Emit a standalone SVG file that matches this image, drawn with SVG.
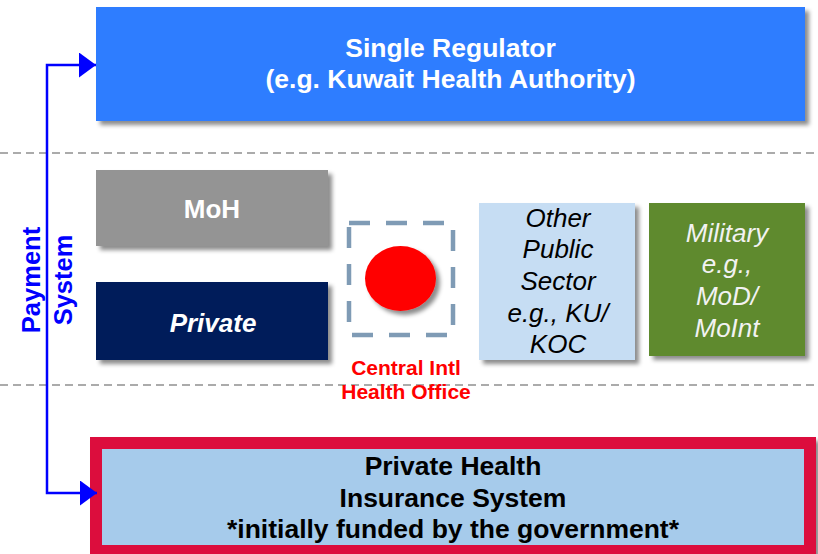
<svg xmlns="http://www.w3.org/2000/svg" width="818" height="554" viewBox="0 0 818 554">
<defs>
<filter id="sh" x="-10%" y="-10%" width="130%" height="130%">
<feDropShadow dx="4" dy="4" stdDeviation="2" flood-color="#000" flood-opacity="0.45"/>
</filter>
<marker id="ah" markerWidth="17" markerHeight="25" refX="17" refY="12.5" orient="auto" markerUnits="userSpaceOnUse">
<path d="M0,0 L17,12.5 L0,25 Z" fill="#0000FF"/>
</marker>
</defs>
<style>
text{font-family:"Liberation Sans",Arial,sans-serif;text-anchor:middle}
.b{font-weight:bold}
.w{fill:#FFFFFF}
.k{fill:#000000}
.sep{stroke:#ABABAB;stroke-width:2;stroke-dasharray:8 5;fill:none}
</style>
<line class="sep" x1="0" y1="153" x2="818" y2="153"/>
<line class="sep" x1="0" y1="385" x2="818" y2="385"/>

<g id="regulator">
<rect x="96" y="7" width="709" height="114" fill="#2E7DFF" filter="url(#sh)"/>
<text class="b w" x="450.5" y="57" font-size="26.5">Single Regulator</text>
<text class="b w" x="450.5" y="88" font-size="26.5">(e.g. Kuwait Health Authority)</text>
</g>

<g id="moh">
<rect x="96" y="170" width="232" height="76" fill="#949494" filter="url(#sh)"/>
<text class="b w" x="212" y="218" font-size="26">MoH</text>
</g>

<g id="private">
<rect x="96" y="282" width="232" height="78" fill="#001E5A" filter="url(#sh)"/>
<text class="b w" x="213" y="332" font-size="26" font-style="italic">Private</text>
</g>

<g id="central">
<path d="M349,223 H453 V335 H349 Z" fill="none" stroke="#7F9BB5" stroke-width="4.5" stroke-dasharray="21 16"/>
<ellipse cx="400.5" cy="278.5" rx="35.5" ry="32.5" fill="#FF0000" filter="url(#sh)"/>
<text class="b" x="406" y="375" font-size="21" fill="#FF0000">Central Intl</text>
<text class="b" x="406" y="399" font-size="21" fill="#FF0000">Health Office</text>
</g>

<g id="otherpublic">
<rect x="479" y="203" width="156" height="157" fill="#C6DDF3" filter="url(#sh)"/>
<g class="k" font-size="26" font-style="italic">
<text x="558" y="227">Other</text>
<text x="558" y="258">Public</text>
<text x="558" y="290">Sector</text>
<text x="558" y="322">e.g., KU/</text>
<text x="558" y="353">KOC</text>
</g>
</g>

<g id="military">
<rect x="649" y="203" width="156" height="153" fill="#5F8A2E" filter="url(#sh)"/>
<g fill="#F2F2F2" font-size="26" font-style="italic">
<text x="727" y="242">Military</text>
<text x="727" y="273">e.g.,</text>
<text x="727" y="305">MoD/</text>
<text x="727" y="337">MoInt</text>
</g>
</g>

<g id="insurance">
<rect x="96" y="443" width="714" height="108" fill="#A6CBEB" stroke="#DC0F3C" stroke-width="12" filter="url(#sh)"/>
<text class="b k" x="453" y="475" font-size="26.5">Private Health</text>
<text class="b k" x="453" y="507" font-size="26.5">Insurance System</text>
<text class="b k" x="453" y="538" font-size="26.5">*initially funded by the government*</text>
</g>

<g id="payment">
<text class="b" font-size="25.5" fill="#0000FF" transform="translate(40,280) rotate(-90)">Payment</text>
<text class="b" font-size="25.5" fill="#0000FF" transform="translate(72,280) rotate(-90)">System</text>
</g>

<g id="connectors" fill="none" stroke="#0000FF" stroke-width="2.5">
<path d="M47,280 V65 H96" marker-end="url(#ah)"/>
<path d="M47,280 V493 H97" marker-end="url(#ah)"/>
</g>
</svg>
